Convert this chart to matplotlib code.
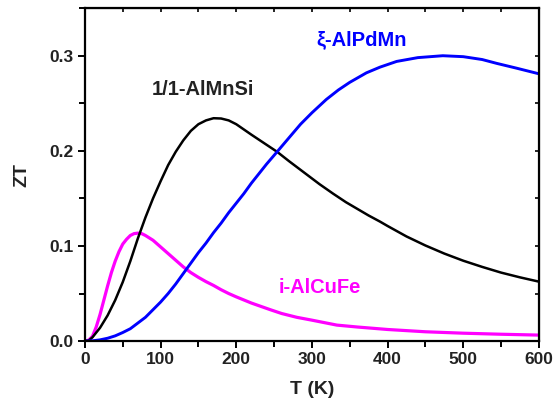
import matplotlib
matplotlib.use("Agg")
import matplotlib.pyplot as plt
from matplotlib.ticker import MultipleLocator

plt.rcParams['font.family'] = ['Liberation Sans', 'DejaVu Sans']
plt.rcParams['font.weight'] = 'bold'

# i-AlCuFe (magenta)
t_cufe = [0, 5, 10, 15, 20, 25, 30, 35, 40, 45, 50, 55, 60, 65, 70, 75, 80, 90, 100, 110,
          120, 130, 140, 150, 160, 170, 180, 190, 200, 220, 245, 260, 280, 300, 333, 360,
          400, 450, 500, 550, 600]
zt_cufe = [0, 0.001, 0.005, 0.015, 0.028, 0.043, 0.058, 0.072, 0.084, 0.094, 0.102, 0.107,
           0.111, 0.113, 0.1135, 0.113, 0.111, 0.106, 0.099, 0.092, 0.085, 0.078, 0.072,
           0.067, 0.0625, 0.0585, 0.054, 0.050, 0.0465, 0.040, 0.033, 0.029, 0.025, 0.022,
           0.0168, 0.0148, 0.0122, 0.0098, 0.0083, 0.0072, 0.0063]

# 1/1-AlMnSi (black)
t_mnsi = [0, 5, 10, 20, 30, 40, 50, 60, 70, 80, 90, 100, 110, 120, 130, 140, 150, 160, 170,
          180, 190, 200, 220, 254, 270, 290, 310, 328, 345, 360, 375, 390, 400, 425, 450,
          475, 500, 525, 550, 575, 600]
zt_mnsi = [0, 0.0005, 0.004, 0.014, 0.027, 0.043, 0.062, 0.084, 0.108, 0.130, 0.150, 0.168,
           0.185, 0.199, 0.211, 0.221, 0.228, 0.232, 0.2343, 0.234, 0.232, 0.228, 0.217,
           0.199, 0.189, 0.177, 0.165, 0.155, 0.146, 0.139, 0.132, 0.1256, 0.121, 0.110,
           0.1005, 0.092, 0.0845, 0.078, 0.072, 0.067, 0.0625]

# xi-AlPdMn (blue)
t_pdmn = [0, 10, 20, 30, 40, 50, 60, 70, 80, 90, 100, 110, 120, 130, 140, 150, 160, 170,
          180, 190, 200, 210, 220, 230, 240, 254, 270, 285, 300, 319, 335, 350, 372, 390,
          412, 440, 473, 500, 525, 544, 570, 600]
zt_pdmn = [0, 0.0003, 0.0013, 0.003, 0.0055, 0.009, 0.013, 0.019, 0.025, 0.033, 0.041,
           0.050, 0.060, 0.071, 0.082, 0.093, 0.103, 0.114, 0.124, 0.135, 0.145, 0.155,
           0.166, 0.176, 0.186, 0.199, 0.214, 0.228, 0.240, 0.254, 0.264, 0.272, 0.282,
           0.288, 0.294, 0.298, 0.300, 0.299, 0.296, 0.292, 0.287, 0.281]

x_ticks = [0, 100, 200, 300, 400, 500, 600]
y_ticks = [0.0, 0.1, 0.2, 0.3]

fig = plt.figure(figsize=(5.55, 4.08), dpi=100)
ax = fig.add_axes([0.153, 0.164, 0.818, 0.816])

ax.plot(t_cufe, zt_cufe, color='#ff00ff', lw=2.3, solid_joinstyle='round')
ax.plot(t_mnsi, zt_mnsi, color='black', lw=1.8, solid_joinstyle='round')
ax.plot(t_pdmn, zt_pdmn, color='#0000ff', lw=2.1, solid_joinstyle='round')

ax.set_xlim(0, 600)
ax.set_ylim(0, 0.35)
ax.set_xticks(x_ticks)
ax.set_yticks(y_ticks)
ax.set_yticklabels([f"{v:.1f}" for v in y_ticks])
ax.xaxis.set_minor_locator(MultipleLocator(50))
ax.yaxis.set_minor_locator(MultipleLocator(0.05))

for s in ax.spines.values():
    s.set_linewidth(1.6)

ax.tick_params(which='both', direction='out', width=1.4, labelsize=12.5, colors='black',
               labelcolor='#222222', top=False, right=False)
ax.tick_params(which='major', length=5, pad=3)
ax.tick_params(which='minor', length=4)

# inward ticks on top/right
ax2 = ax.secondary_xaxis('top')
ax2.set_xticks(x_ticks)
ax2.xaxis.set_minor_locator(MultipleLocator(50))
ax2.tick_params(which='both', direction='in', length=3, width=1.2, labeltop=False)
ax3 = ax.secondary_yaxis('right')
ax3.set_yticks(y_ticks)
ax3.yaxis.set_minor_locator(MultipleLocator(0.05))
ax3.tick_params(which='both', direction='in', length=3, width=1.2, labelright=False)

ax.set_xlabel('T (K)', fontsize=14, fontweight='bold', color='#222222', labelpad=10)
ax.set_ylabel('ZT', fontsize=14, fontweight='bold', color='#222222', labelpad=14)

ax.text(156, 0.264, '1/1-AlMnSi', fontsize=14.5, fontweight='bold', color='#222222',
        ha='center', va='center')
ax.text(366, 0.317, 'ξ-AlPdMn', fontsize=14.5, fontweight='bold', color='#0000ff',
        ha='center', va='center')
ax.text(311, 0.056, 'i-AlCuFe', fontsize=14.5, fontweight='bold', color='#ff00ff',
        ha='center', va='center')

fig.savefig('out.png', dpi=100)
